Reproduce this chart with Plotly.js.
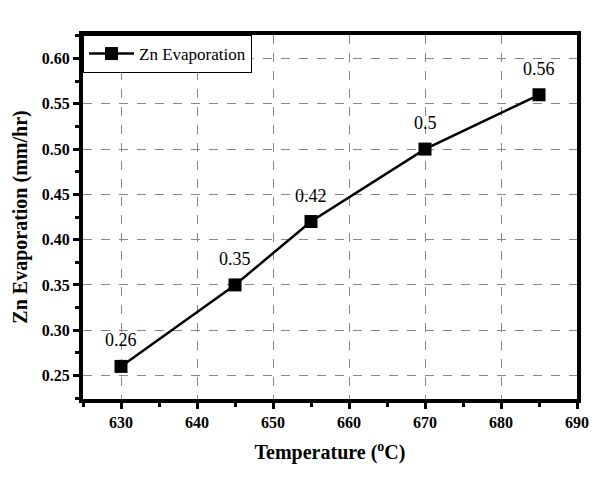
<!DOCTYPE html>
<html><head><meta charset="utf-8">
<script src="https://cdn.plot.ly/plotly-3.0.1.min.js"></script>
<style>body{margin:0;background:#fff}#c{width:607px;height:488px}</style>
</head><body><div id="c"></div>
<script>
const temperature = [630, 645, 655, 670, 685];
const evaporation = [0.26, 0.35, 0.42, 0.50, 0.56];
const pointLabels = ['0.26', '0.35', '0.42', '0.5', '0.56'];
const xTicks = [630, 640, 650, 660, 670, 680, 690];
const yTicks = [0.25, 0.30, 0.35, 0.40, 0.45, 0.50, 0.55, 0.60];

const serif = 'Liberation Serif';
const trace = {
  x: temperature, y: evaporation, type: 'scatter', mode: 'lines+markers',
  name: 'Zn Evaporation',
  line: {color: '#000', width: 2.5},
  marker: {symbol: 'square', size: 13, color: '#000'}
};
const annotations = temperature.map((t, i) => ({
  x: t, y: evaporation[i], xref: 'x', yref: 'y', text: pointLabels[i],
  showarrow: false, yshift: 26, font: {family: serif, size: 18, color: '#000'}
}));
function axisCommon() {
  return {
    showline: true, linewidth: 4, linecolor: '#000', mirror: true,
    ticks: 'outside', ticklen: 6, tickwidth: 3, tickcolor: '#000',
    showgrid: true, gridcolor: '#888', griddash: 'dash', gridwidth: 1,
    zeroline: false,
    tickfont: {family: serif, size: 16, color: '#000', weight: 'bold'}
  };
}
const layout = {
  width: 607, height: 488,
  margin: {l: 83, r: 30, t: 35, b: 89},
  paper_bgcolor: '#fff', plot_bgcolor: '#fff',
  font: {family: serif, color: '#000'},
  showlegend: true,
  legend: {x: 0, y: 1, xanchor: 'left', yanchor: 'top', bgcolor: '#fff',
    bordercolor: '#000', borderwidth: 1, itemwidth: 45,
    font: {family: serif, size: 17, color: '#000'}},
  xaxis: Object.assign(axisCommon(), {
    range: [625, 690], tickvals: xTicks, ticktext: xTicks.map(String),
    minor: {dtick: 5, tick0: 625, ticks: 'outside', ticklen: 4, tickwidth: 3, tickcolor: '#000', showgrid: false},
    title: {text: 'Temperature (<sup>o</sup>C)', standoff: 16,
      font: {family: serif, size: 20, color: '#000', weight: 'bold'}}
  }),
  yaxis: Object.assign(axisCommon(), {
    range: [0.224, 0.626], tickvals: yTicks, ticktext: yTicks.map(v => v.toFixed(2)),
    minor: {dtick: 0.025, tick0: 0.225, ticks: 'outside', ticklen: 4, tickwidth: 3, tickcolor: '#000', showgrid: false},
    title: {text: 'Zn Evaporation (mm/hr)', standoff: 10,
      font: {family: serif, size: 20, color: '#000', weight: 'bold'}}
  }),
  annotations: annotations
};
Plotly.newPlot('c', [trace], layout, {displayModeBar: false});
</script></body></html>
